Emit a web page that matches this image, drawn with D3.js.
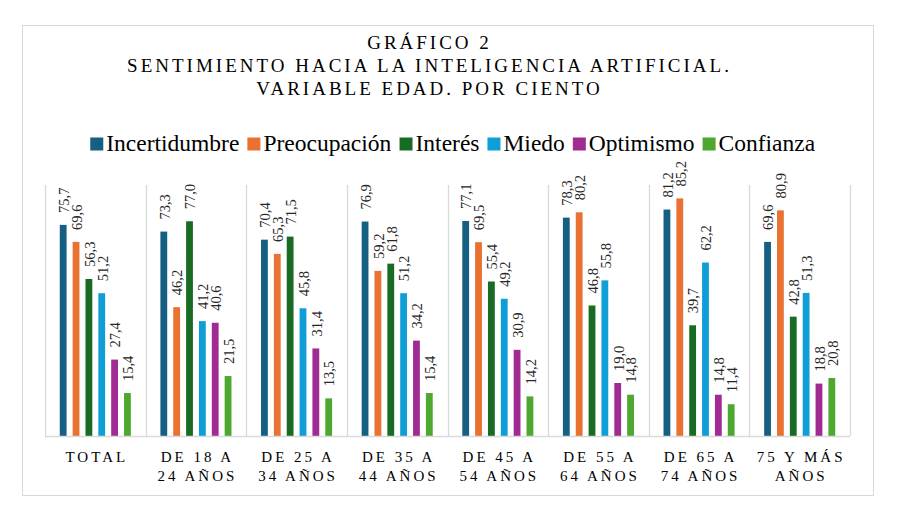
<!DOCTYPE html>
<html>
<head>
<meta charset="utf-8">
<script src="https://cdn.jsdelivr.net/npm/d3@7"></script>
<style>
  html, body { margin: 0; padding: 0; background: #ffffff; }
  svg { display: block; }
</style>
</head>
<body>
<svg id="chart" width="898" height="518"></svg>
<script>
// ---- Data ----
const titleLines = ["GRÁFICO 2", "SENTIMIENTO HACIA LA INTELIGENCIA ARTIFICIAL.", "VARIABLE EDAD. POR CIENTO"];
const categories = ["TOTAL", "DE 18 A|24 AÑOS", "DE 25 A|34 AÑOS", "DE 35 A|44 AÑOS", "DE 45 A|54 AÑOS", "DE 55 A|64 AÑOS", "DE 65 A|74 AÑOS", "75 Y MÁS|AÑOS"];
const series = ["Incertidumbre", "Preocupación", "Interés", "Miedo", "Optimismo", "Confianza"];
const colors = ["#156082", "#E97132", "#196B24", "#0F9ED5", "#A02B93", "#4EA72E"];
const incertidumbre = [75.7, 73.3, 70.4, 76.9, 77.1, 78.3, 81.2, 69.6];
const preocupacion  = [69.6, 46.2, 65.3, 59.2, 69.5, 80.2, 85.2, 80.9];
const interes       = [56.3, 77.0, 71.5, 61.8, 55.4, 46.8, 39.7, 42.8];
const miedo         = [51.2, 41.2, 45.8, 51.2, 49.2, 55.8, 62.2, 51.3];
const optimismo     = [27.4, 40.6, 31.4, 34.2, 30.9, 19.0, 14.8, 18.8];
const confianza     = [15.4, 21.5, 13.5, 15.4, 14.2, 14.8, 11.4, 20.8];
const seriesValues = [incertidumbre, preocupacion, interes, miedo, optimismo, confianza];
const yMax = 90;

// ---- Layout ----
const FONT = "'Liberation Serif', Tinos, 'Times New Roman', 'DejaVu Serif', 'Noto Serif', FreeSerif, 'Nimbus Roman', serif";
const svg = d3.select("#chart").attr("font-family", FONT).style("font-family", FONT);
const plot = { left: 45, right: 850, top: 185, bottom: 436 };
const grid = "#d9d9d9";

svg.append("rect").attr("x", 22.5).attr("y", 25.5).attr("width", 851).attr("height", 470)
  .attr("fill", "#fff").attr("stroke", grid).attr("stroke-width", 1);

// Title
const title = svg.append("text").attr("text-anchor", "middle")
  .attr("font-family", FONT).style("font-family", FONT)
  .style("font-size", "19px").style("letter-spacing", "3px").style("fill", "#000");
titleLines.forEach((t, i) => {
  title.append("tspan").attr("x", 429.5).attr("y", 48.5 + i * 23).text(t);
});

// Scales
const x = d3.scaleBand().domain(categories).range([plot.left, plot.right]).padding(0);
const xi = d3.scaleBand().domain(series).range([0, x.bandwidth()]).paddingInner(0.47).paddingOuter(1.15);
const y = d3.scaleLinear().domain([0, yMax]).range([plot.bottom, plot.top]);

// Vertical separators
const seps = categories.map(c => x(c)).concat([plot.right]);
svg.append("g").selectAll("line").data(seps).join("line")
  .attr("x1", d => Math.round(d) + 0.5).attr("x2", d => Math.round(d) + 0.5)
  .attr("y1", plot.top).attr("y2", plot.bottom)
  .attr("stroke", grid).attr("stroke-width", 1.3);

// Bars
const rows = [];
categories.forEach((c, ci) => series.forEach((s, si) => rows.push({ c, s, si, v: seriesValues[si][ci] })));
svg.append("g").selectAll("rect").data(rows).join("rect")
  .attr("x", d => x(d.c) + xi(d.s))
  .attr("width", xi.bandwidth())
  .attr("y", d => y(d.v))
  .attr("height", d => y(0) - y(d.v))
  .attr("fill", d => colors[d.si]);

// Baseline axis
const xAxis = d3.axisBottom(x).tickSize(0).tickFormat("");
const ax = svg.append("g").attr("transform", `translate(0,${plot.bottom})`).call(xAxis);
ax.select(".domain").attr("stroke", grid).attr("stroke-width", 1.3).attr("d", `M${plot.left},0.5H${plot.right}`);

// Category labels
const catG = svg.append("g");
categories.forEach(c => {
  const lines = c.split("|");
  const t = catG.append("text").attr("text-anchor", "middle")
    .attr("font-family", FONT).style("font-family", FONT)
    .style("font-size", "15px").style("letter-spacing", "3px").style("fill", "#000");
  lines.forEach((l, i) => {
    t.append("tspan").attr("x", x(c) + x.bandwidth() / 2 + 1.5).attr("y", 462 + i * 19).text(l);
  });
});

// Data labels
const fmt = v => d3.format(".1f")(v).replace(".", ",");
svg.append("g").selectAll("text").data(rows).join("text")
  .attr("transform", d => `translate(${x(d.c) + xi(d.s) + xi.bandwidth() / 2 + 0.8},${y(d.v) - 12}) rotate(-90)`)
  .attr("text-anchor", "start")
  .attr("dominant-baseline", "central")
  .attr("font-family", FONT).style("font-family", FONT)
  .style("font-size", "14.5px")
  .style("fill", "#262626")
  .text(d => fmt(d.v));

// Legend
const legend = svg.append("g");
const items = legend.selectAll("g").data(series).join("g");
items.append("rect").attr("width", 13).attr("height", 13).attr("y", 137.5)
  .attr("fill", (d, i) => colors[i]);
items.append("text").attr("x", 16).attr("y", 151)
  .attr("font-family", FONT).style("font-family", FONT)
  .style("font-size", "23.5px").style("fill", "#000").text(d => d);
const widths = items.nodes().map(n => n.getBBox().width);
const gap = 8;
const total = d3.sum(widths) + gap * (widths.length - 1);
let cx = 453 - total / 2;
items.attr("transform", (d, i) => {
  const tx = cx;
  cx += widths[i] + gap;
  return `translate(${tx},0)`;
});
</script>
</body>
</html>
